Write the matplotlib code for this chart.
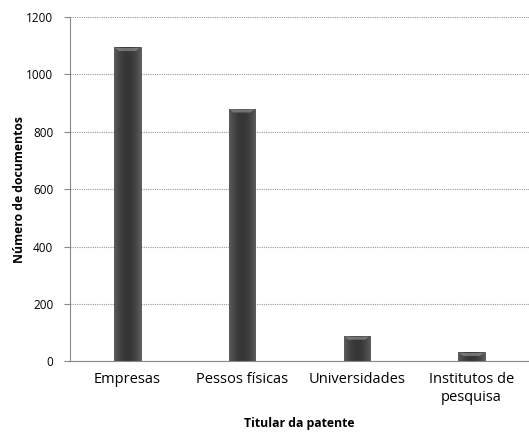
import numpy as np
import matplotlib
matplotlib.use('Agg')
from matplotlib import pyplot as plt

categorias = ['Empresas', 'Pessos físicas', 'Universidades', 'Institutos de\npesquisa']
documentos = [1094, 880, 88, 31]
yticks = [0, 200, 400, 600, 800, 1000, 1200]

plt.rcParams['font.family'] = ['Open Sans', 'DejaVu Sans']

fig = plt.figure(figsize=(5.29, 4.32), dpi=100)
ax = fig.add_axes([0.1323, 0.1636, 0.8677, 0.797])

x = np.arange(len(categorias))
bars = ax.bar(x, documentos, width=0.23, color='#3c3c3c', edgecolor='#555555',
              linewidth=0.6, zorder=2)

# gradiente tipo cilindro nas barras
grad = np.linspace(-1, 1, 64)
grad = 1 - np.abs(grad) ** 2
grad = np.vstack([grad, grad])
cmap = matplotlib.colors.LinearSegmentedColormap.from_list('g', ['#5e5e5e', '#363636'])
for b in bars:
    x0, y0 = b.get_x(), b.get_y()
    w, h = b.get_width(), b.get_height()
    im = ax.imshow(grad, cmap=cmap, aspect='auto', extent=(x0, x0 + w, y0, y0 + h),
                   zorder=2.5, interpolation='bicubic')
    im.set_clip_path(b)
    # brilho no topo (bisel)
    tb = min(16, h * 0.5)
    top = y0 + h
    ax.fill([x0 + w * 0.04, x0 + w * 0.96, x0 + w * 0.82, x0 + w * 0.18],
            [top - tb * 0.1, top - tb * 0.1, top - tb * 0.8, top - tb * 0.8],
            color='#8c8c8c', alpha=0.7, zorder=3, linewidth=0)

ax.set_xlim(-0.5, 3.5)
ax.set_ylim(0, 1200)
ax.set_yticks(yticks)
ax.set_xticks(x)
ax.set_xticklabels(categorias, fontsize=10.5)
ax.tick_params(axis='y', labelsize=8.5, length=4, color='#888888', pad=8)
ax.tick_params(axis='x', length=0, pad=8)
ax.yaxis.grid(True, linestyle=(0, (1, 1)), color='#999999', linewidth=0.8, zorder=0)
ax.set_axisbelow(True)

ax.spines['top'].set_color('none')
ax.spines['right'].set_color('none')
ax.spines['left'].set_color('#888888')
ax.spines['bottom'].set_color('#888888')

ax.set_ylabel('Número de documentos', fontsize=8.8, fontweight='bold', labelpad=0)
ax.set_xlabel('Titular da patente', fontsize=8.8, fontweight='bold', labelpad=9)

fig.savefig('out.png', dpi=100)
